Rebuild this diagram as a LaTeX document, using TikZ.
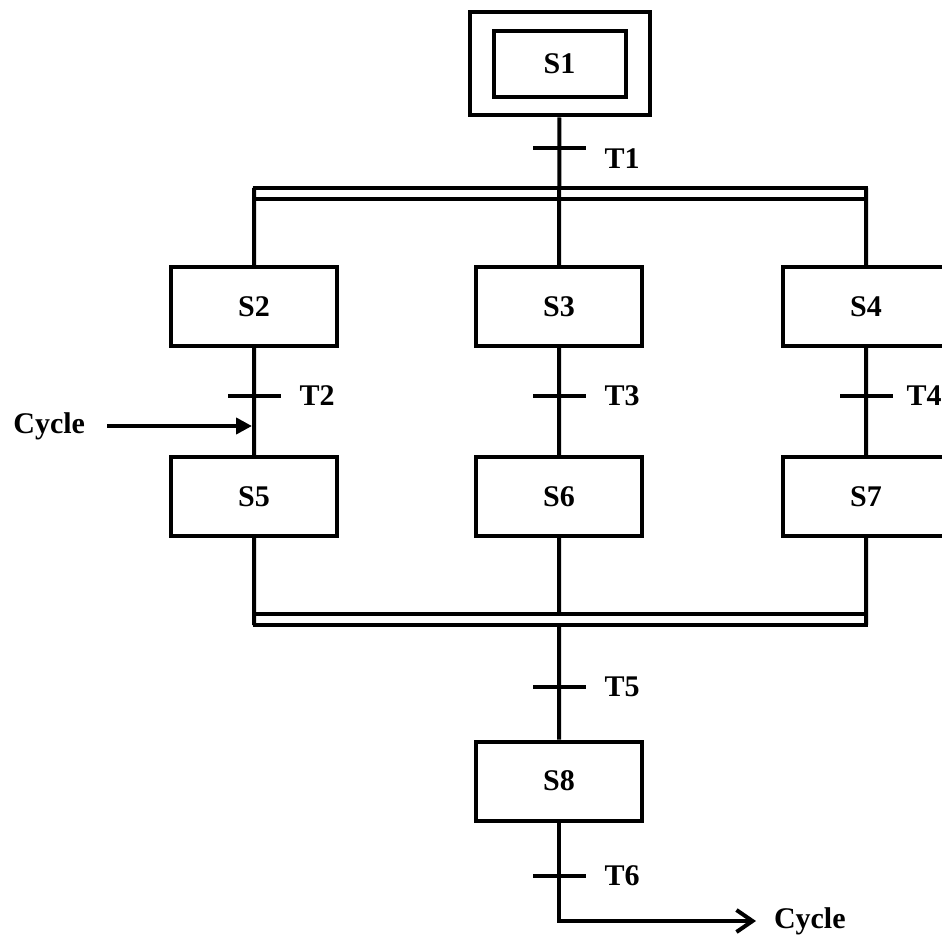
\documentclass[tikz,border=0pt]{standalone}
\usepackage{fontspec}
\setmainfont{Liberation Serif}
\usetikzlibrary{arrows.meta,positioning}

\begin{document}
\begin{tikzpicture}[x=0.5pt,y=-0.5pt,line width=2pt,
	font=\fontsize{15}{18}\selectfont\bfseries,
	etape/.style = {draw, inner sep = 0pt, minimum width = 83pt, minimum height = 39.5pt},
	trans/.style = {fill, inner sep = 0pt, minimum width = 26.5pt, minimum height = 2pt},
	tlabel/.style = {inner sep = 0pt, label distance = 7.5pt},
	sync/.style = {line width = 1.75pt}]
	\clip (0,0) rectangle (942,941);
	% initial step
	\node[etape, minimum width = 90pt, minimum height = 51.5pt] (s1box) at (559.5,64) {};
	\node[etape, minimum width = 66pt, minimum height = 33pt] (s1) at (559.5,64) {S1};
	% parallel branches
	\node[etape] (s2) at (254,306.5) {S2};
	\node[etape] (s3) at (559,306.5) {S3};
	\node[etape] (s4) at (866,306.5) {S4};
	\node[etape] (s5) at (254,496.5) {S5};
	\node[etape] (s6) at (559,496.5) {S6};
	\node[etape] (s7) at (866,496.5) {S7};
	\node[etape] (s8) at (559,781) {S8};
	% transitions
	\node[trans, label = {[tlabel, yshift = -5.5pt]right:T1}] (t1) at (559,148) {};
	\node[trans, label = {[tlabel]right:T2}] (t2) at (254,396) {};
	\node[trans, label = {[tlabel]right:T3}] (t3) at (559,396) {};
	\node[trans, label = {[tlabel, label distance = 5pt]right:T4}] (t4) at (866,396) {};
	\node[trans, label = {[tlabel]right:T5}] (t5) at (559,687) {};
	\node[trans, label = {[tlabel]right:T6}] (t6) at (559,876) {};
	% double lines
	\coordinate (dtop) at (252.5,188);
	\coordinate (dtop2) at (252.5,199);
	\coordinate (dbot) at (252.5,614);
	\coordinate (dbot2) at (252.5,625);
	\draw[sync] (dtop) -- ++(615,0);
	\draw[sync] (dtop2) -- ++(615,0);
	\draw[sync] (dbot) -- ++(615,0);
	\draw[sync] (dbot2) -- ++(615,0);
	% links
	\path[draw]
	(s1box) -- (s3)
	(s2.north) -- (s2.north |- dtop)
	(s4.north) -- (s4.north |- dtop)
	(s2) -- (s5)
	(s3) -- (s6)
	(s4) -- (s7)
	(s5.south) -- (s5.south |- dbot2)
	(s6.south) -- (s6.south |- dbot)
	(s7.south) -- (s7.south |- dbot2)
	(s8.north) -- (s8.north |- dbot2);
	% cycle in and out
	\node[anchor = east, inner sep = 0pt] (cin) at (87,426) {Cycle};
	\node[anchor = west, inner sep = 0pt] (cout) at (772,921) {Cycle};
	\draw[-{Triangle[length = 8pt, width = 8pt]}, shorten <= 10pt, shorten >= 1pt]
	(cin.east) -- (cin.east -| s5.north);
	\draw[-{Straight Barb[length = 8pt, width = 11pt]}, shorten >= 8pt]
	(s8.south) |- (cout.west);
\end{tikzpicture}
\end{document}
